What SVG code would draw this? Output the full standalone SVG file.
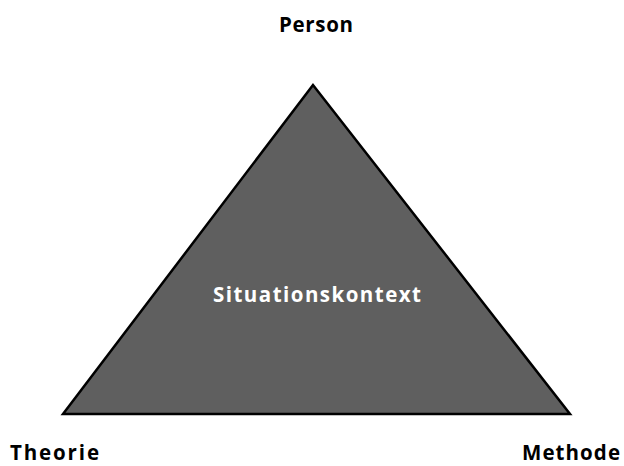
<svg xmlns="http://www.w3.org/2000/svg" width="624" height="466" viewBox="0 0 624 466">
<style>
.lbl{font-family:"Open Sans","DejaVu Sans",sans-serif;font-weight:bold;font-size:20.5px;fill:#000}
.in{fill:#fff}
</style>
<rect width="624" height="466" fill="#fff"/>
<g id="triangle">
<polygon points="313,85 63,414 570,414" fill="#5f5f5f" stroke="#000" stroke-width="2.5" stroke-linejoin="miter"/>
<text class="lbl in" x="213" y="302" textLength="208" lengthAdjust="spacing">Situationskontext</text>
</g>
<g id="person"><text class="lbl" x="279" y="32" textLength="74" lengthAdjust="spacing">Person</text></g>
<g id="theorie"><text class="lbl" x="10" y="460" textLength="89" lengthAdjust="spacing">Theorie</text></g>
<g id="methode"><text class="lbl" x="522" y="460" textLength="98" lengthAdjust="spacing">Methode</text></g>
<g id="connectors"></g>
</svg>
